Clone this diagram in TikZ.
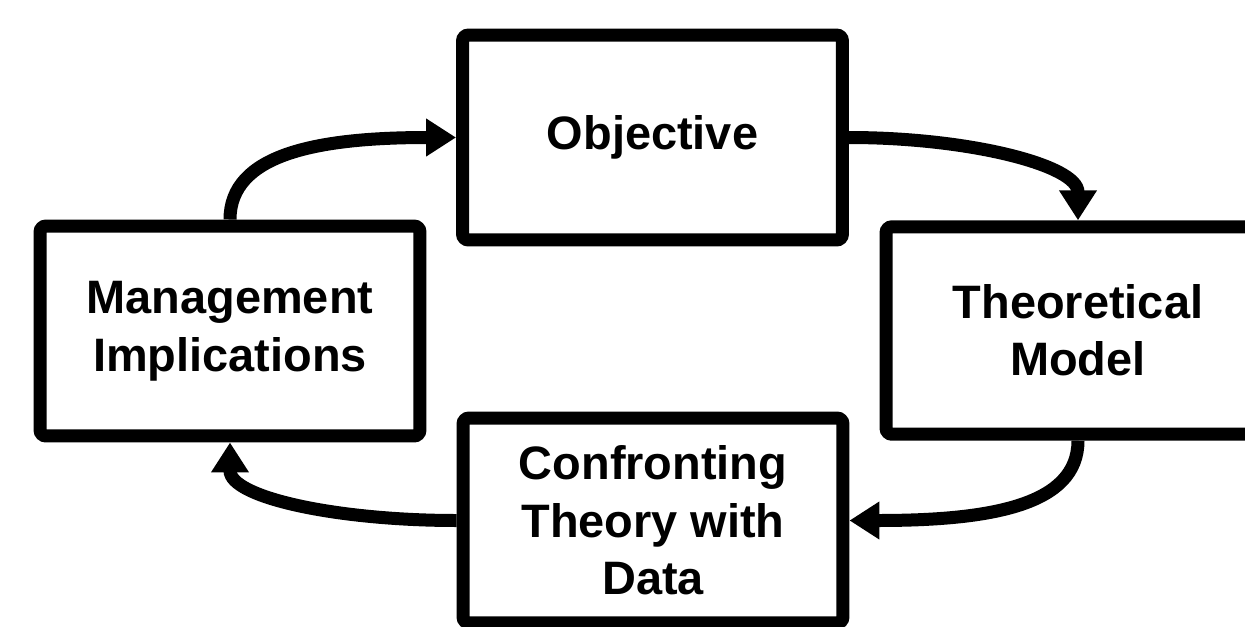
\documentclass[tikz,border=0pt]{standalone}
\usepackage{fontspec}
\setmainfont{Liberation Sans}
\usepackage{tikz}
\usetikzlibrary{arrows.meta, calc}

\begin{document}
\begin{tikzpicture}[x=0.02cm, y=-0.02cm,
    box/.style={draw, line width=0.26cm, rounded corners=0.12cm, align=center,
                minimum width=7.6cm, minimum height=4.15cm,
                font=\bfseries\fontsize{26.7pt}{32.7pt}\selectfont},
    flow/.style={line width=0.26cm, -{Triangle[length=0.6cm, width=0.72cm]}}]
    \useasboundingbox (0,0) rectangle (1245,626);
    \clip (0,0) rectangle (1245,626);

    % the four stages
    \node[box, minimum height=4.1cm] (obj) at (652.5,137.5) {Objective};
    \node[box, minimum width=7.68cm] (theo) at (1078,330.5) {Theoretical\\Model};
    \node[box, minimum height=4.1cm] (conf) at (653,520.5) {Confronting\\Theory with\\Data};
    \node[box, minimum height=4.2cm] (mgmt) at (230,331) {Management\\Implications};

    % cycle
    \draw[flow] (mgmt.north) .. controls +(0,-65) and +(-140,0) .. (obj.west);
    \draw[flow] (obj.east) .. controls +(120,0) and +(0,-55) .. (theo.north);
    \draw[flow] (theo.south) .. controls +(0,65) and +(140,0) .. (conf.east);
    \draw[flow] (conf.west) .. controls +(-120,0) and +(0,55) .. (mgmt.south);
\end{tikzpicture}
\end{document}
